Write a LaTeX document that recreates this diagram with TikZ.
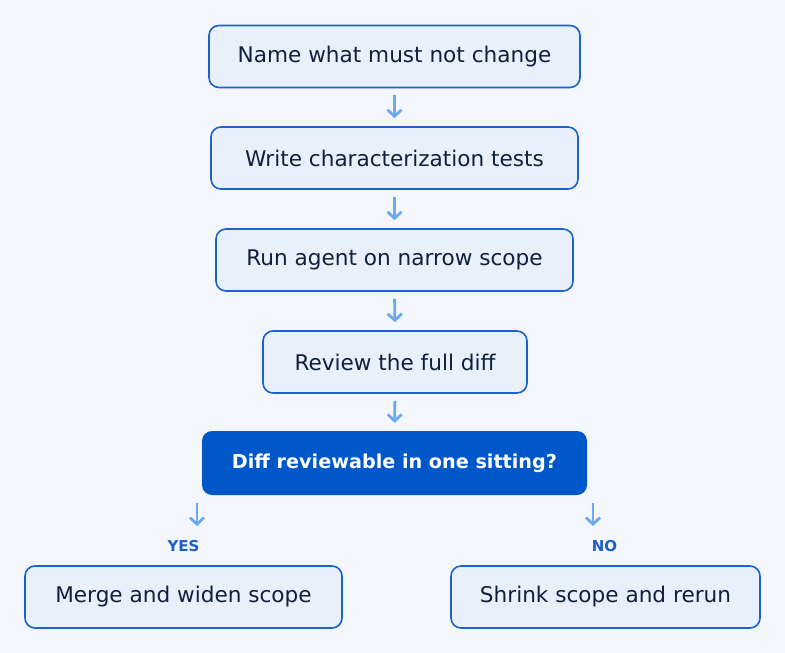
\documentclass[tikz,border=0pt]{standalone}
\usepackage{fontspec}
\setmainfont{DejaVu Sans}
\usetikzlibrary{arrows.meta}
\definecolor{bg}{HTML}{F3F7FC}
\definecolor{boxfill}{HTML}{E8F1FB}
\definecolor{boxline}{HTML}{1B61D1}
\definecolor{txt}{HTML}{10203C}
\definecolor{decfill}{HTML}{0057C8}
\definecolor{arr}{HTML}{6EA9EC}
\definecolor{lbl}{HTML}{1D5ECB}
\tikzset{
  stepbox/.style={draw=boxline, line width=1.6pt, fill=boxfill, rounded corners=10pt,
    minimum height=62pt, inner xsep=0pt, text=txt,
    font=\fontsize{21.6}{26}\selectfont},
  decbox/.style={fill=decfill, rounded corners=10pt, minimum height=64pt,
    minimum width=385pt, text=white, font=\fontsize{19.2}{24}\selectfont\bfseries},
  flowarrow/.style={draw=arr, line width=2.8pt,
    -{Straight Barb[length=6.5pt, width=14pt, line width=2.8pt]}},
  branchlbl/.style={text=lbl, font=\fontsize{15}{18}\selectfont\bfseries}
}
\begin{document}
\begin{tikzpicture}[x=1pt, y=-1pt]
\fill[bg] (0,0) rectangle (785,653);
\useasboundingbox (0,0) rectangle (785,653);
\node[stepbox, minimum width=371pt] (n1) at (394.5,56.5) {Name what must not change};
\node[stepbox, minimum width=367pt] (n2) at (394.5,158) {Write characterization tests};
\node[stepbox, minimum width=357pt] (n3) at (394.5,260) {Run agent on narrow scope};
\node[stepbox, minimum width=264pt] (n4) at (395,362) {Review the full diff};
\node[decbox] (d) at (394.5,463) {Diff reviewable in one sitting?};
\node[stepbox, minimum width=317pt] (y) at (183.5,597) {Merge and widen scope};
\node[stepbox, minimum width=309pt] (n) at (605.5,597) {Shrink scope and rerun};
\node[branchlbl] (ly) at (183.5,546) {YES};
\node[branchlbl] (ln) at (604.5,546) {NO};
\draw[flowarrow, shorten <=7pt, shorten >=8pt] (n1.south) -- (n2.north);
\draw[flowarrow, shorten <=7pt, shorten >=8pt] (n2.south) -- (n3.north);
\draw[flowarrow, shorten <=7pt, shorten >=8pt] (n3.south) -- (n4.north);
\draw[flowarrow, shorten <=7pt, shorten >=8pt] (n4.south) -- (d.north);
\coordinate (ya) at (197,503);
\coordinate (yb) at (197,526);
\coordinate (na) at (593,503);
\coordinate (nb) at (593,526);
\draw[flowarrow] (ya) -- (yb);
\draw[flowarrow] (na) -- (nb);
\end{tikzpicture}
\end{document}
